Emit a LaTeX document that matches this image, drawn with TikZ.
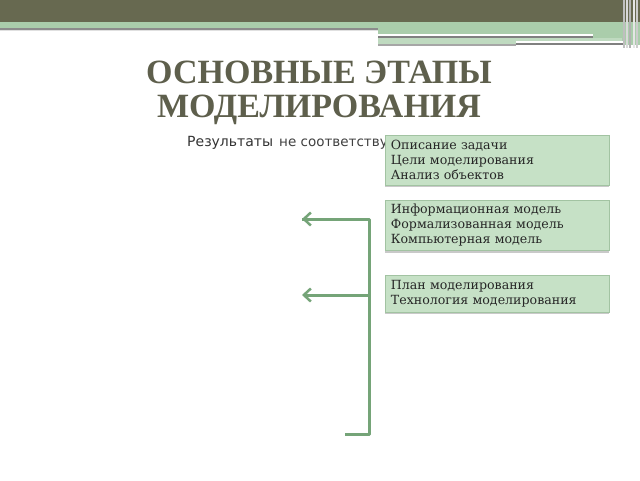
\documentclass[tikz,border=0pt]{standalone}
\usepackage{fontspec}
\setmainfont{DejaVu Serif}
\newfontfamily\titlefont{Liberation Serif}
\newfontfamily\bodysans{DejaVu Sans}
\usetikzlibrary{arrows.meta,shadows}
\definecolor{hdrdark}{HTML}{676950}
\definecolor{hdrgreen}{HTML}{AACDAB}
\definecolor{titlecol}{HTML}{5E5F4C}
\definecolor{boxfill}{HTML}{C6E1C6}
\definecolor{boxline}{HTML}{A2C3A2}
\definecolor{arrowcol}{HTML}{75A478}
\tikzset{
  stagebox/.style={draw=boxline, line width=0.8pt, fill=boxfill, anchor=north west,
    minimum width=224pt, text width=213pt, align=left, inner xsep=5.5pt, inner ysep=4pt,
    font=\fontsize{12.6}{15}\selectfont, text=black!85,
    drop shadow={shadow xshift=0pt, shadow yshift=-2pt, fill=black!35, opacity=0.6}},
  bracket/.style={draw=arrowcol, line width=3pt},
  barb/.style={-{Straight Barb[length=7pt,width=13pt,line width=2.5pt]}}
}
\begin{document}
\begin{tikzpicture}[x=1pt,y=-1pt]
\useasboundingbox (0,0) rectangle (640,480);
\fill[white] (0,0) rectangle (640,480);
% header
\fill[hdrdark] (0,0) rectangle (640,21.5);
\fill[hdrgreen] (0,21.5) rectangle (378,27.5);
\fill[black!45] (0,27.5) rectangle (378,29.5);
\fill[black!12] (0,29.5) rectangle (378,31);
\fill[hdrgreen] (378,21.5) rectangle (640,45);
\fill[white] (378,33.5) rectangle (593,35.5);
\fill[black!50] (378,35.5) rectangle (593,37.5);
\fill[hdrgreen!75!white] (378,37.5) rectangle (622,44);
\fill[white] (516,41) rectangle (625,43);
\fill[black!50] (516,43) rectangle (625,45);
\fill[black!35] (378,44) rectangle (516,45.5);
\foreach \x/\c in {623/black!25,626/white!70!gray,629/black!30,633/white!80!gray,636/black!20}
  \fill[\c] (\x,0) rectangle ++(1.5,48);
% title
\node[font=\titlefont\bfseries\fontsize{34}{34}\selectfont, text=titlecol, align=center] (title) at (319,93) {ОСНОВНЫЕ ЭТАПЫ\\МОДЕЛИРОВАНИЯ};
% text line
\node[font=\bodysans\fontsize{14}{15}\selectfont, text=black!80, anchor=base west, inner sep=0pt] (res) at (187,146) {Результаты};
\node[font=\bodysans\fontsize{13.5}{15}\selectfont, text=black!75, anchor=base west, inner sep=0pt] (ne1) at (279,146) {не соответствуют};
% boxes
\node[stagebox, minimum height=50pt] (b1) at (385,135) {Описание задачи\\Цели моделирования\\Анализ объектов};
\node[stagebox, minimum height=49pt] (b2) at (385,200) {Информационная модель\\Формализованная модель\\Компьютерная модель};
\node[stagebox, minimum height=37pt] (b3) at (385,275) {План моделирования\\Технология моделирования};
% bracket
\coordinate (c1) at (369,219);
\coordinate (c2) at (369,295);
\coordinate (c3) at (369,434);
\coordinate (a1) at (302,219);
\coordinate (a2) at (302,295);
\coordinate (e3) at (345,434);
\draw[bracket, line join=round] (e3) -- (c3) -- (c1) -- (a1);
\draw[bracket, barb] (c1) -- (a1);
\draw[bracket, barb] (c2) -- (a2);
\end{tikzpicture}
\end{document}
